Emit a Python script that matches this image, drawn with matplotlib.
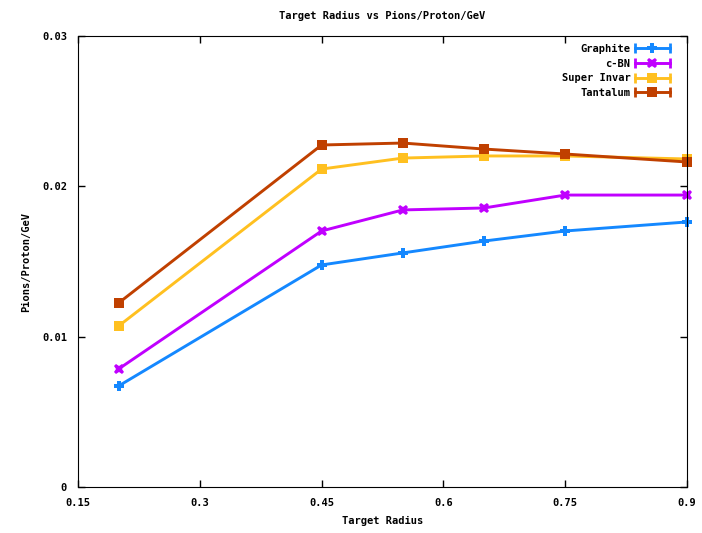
import matplotlib
matplotlib.use("Agg")
import matplotlib.pyplot as plt
from matplotlib.lines import Line2D
from matplotlib.legend_handler import HandlerLine2D

# data
radius = [0.2, 0.45, 0.55, 0.65, 0.75, 0.9]
graphite = [0.00672, 0.01477, 0.01557, 0.01636, 0.01703, 0.01763]
cbn = [0.00785, 0.01703, 0.01843, 0.01856, 0.01942, 0.01942]
super_invar = [0.01071, 0.02115, 0.02188, 0.02202, 0.02202, 0.02182]
tantalum = [0.01224, 0.02275, 0.02288, 0.02248, 0.02215, 0.02162]

x_ticks = [0.15, 0.3, 0.45, 0.6, 0.75, 0.9]
x_labels = ["0.15", "0.3", "0.45", "0.6", "0.75", "0.9"]
y_ticks = [0, 0.01, 0.02, 0.03]
y_labels = ["0", "0.01", "0.02", "0.03"]

series = [
    ("Graphite", graphite, "#1488ff", "P", 7.5),
    ("c-BN", cbn, "#c000ff", "X", 7.5),
    ("Super Invar", super_invar, "#ffc020", "s", 7),
    ("Tantalum", tantalum, "#c04000", "s", 7),
]

font = {"family": "DejaVu Sans Mono", "weight": "bold", "size": 7.5}


class HandlerCapped(HandlerLine2D):
    # gnuplot style key sample: line with end caps and marker in the middle
    def create_artists(self, legend, orig_handle, xdescent, ydescent,
                       width, height, fontsize, trans):
        y = height / 2 - ydescent
        c = orig_handle.get_color()
        lw = orig_handle.get_linewidth()
        line = Line2D([-xdescent, width - xdescent], [y, y], color=c, lw=lw, transform=trans)
        caps = Line2D([-xdescent, width - xdescent], [y, y], color=c, lw=0,
                      marker="|", markersize=7, markeredgewidth=2, transform=trans)
        mid = Line2D([(width) / 2 - xdescent], [y], color=c, lw=0,
                     marker=orig_handle.get_marker(), markersize=orig_handle.get_markersize(),
                     markeredgewidth=0, transform=trans)
        return [line, caps, mid]


fig = plt.figure(figsize=(7.02, 5.33), dpi=100)
ax = fig.add_axes([78 / 702, 46 / 533, 609 / 702, 451 / 533])

handles = []
for name, vals, color, mk, ms in series:
    h, = ax.plot(radius, vals, color=color, lw=2.1, marker=mk, markersize=ms,
                 markeredgewidth=0, label=name, clip_on=False)
    handles.append(h)

ax.set_xlim(0.15, 0.9)
ax.set_ylim(0, 0.03)
ax.set_xticks(x_ticks)
ax.set_xticklabels(x_labels, fontdict=font)
ax.set_yticks(y_ticks)
ax.set_yticklabels(y_labels, fontdict=font)
ax.tick_params(direction="in", length=5, width=1, top=True, right=True, pad=8)

ax.set_title("Target Radius vs Pions/Proton/GeV", fontdict=font, pad=12)
ax.set_xlabel("Target Radius", fontdict=font, labelpad=6)
ax.set_ylabel("Pions/Proton/GeV", fontdict=font, labelpad=8)

ax.legend(handles=handles, loc="upper right", frameon=False, markerfirst=False,
          handler_map={Line2D: HandlerCapped()}, prop=font, handlelength=3.4,
          handletextpad=0.4, labelspacing=0.45, borderaxespad=0.35,
          bbox_to_anchor=(0.985, 1.0))

fig.savefig("out.png", dpi=100)
